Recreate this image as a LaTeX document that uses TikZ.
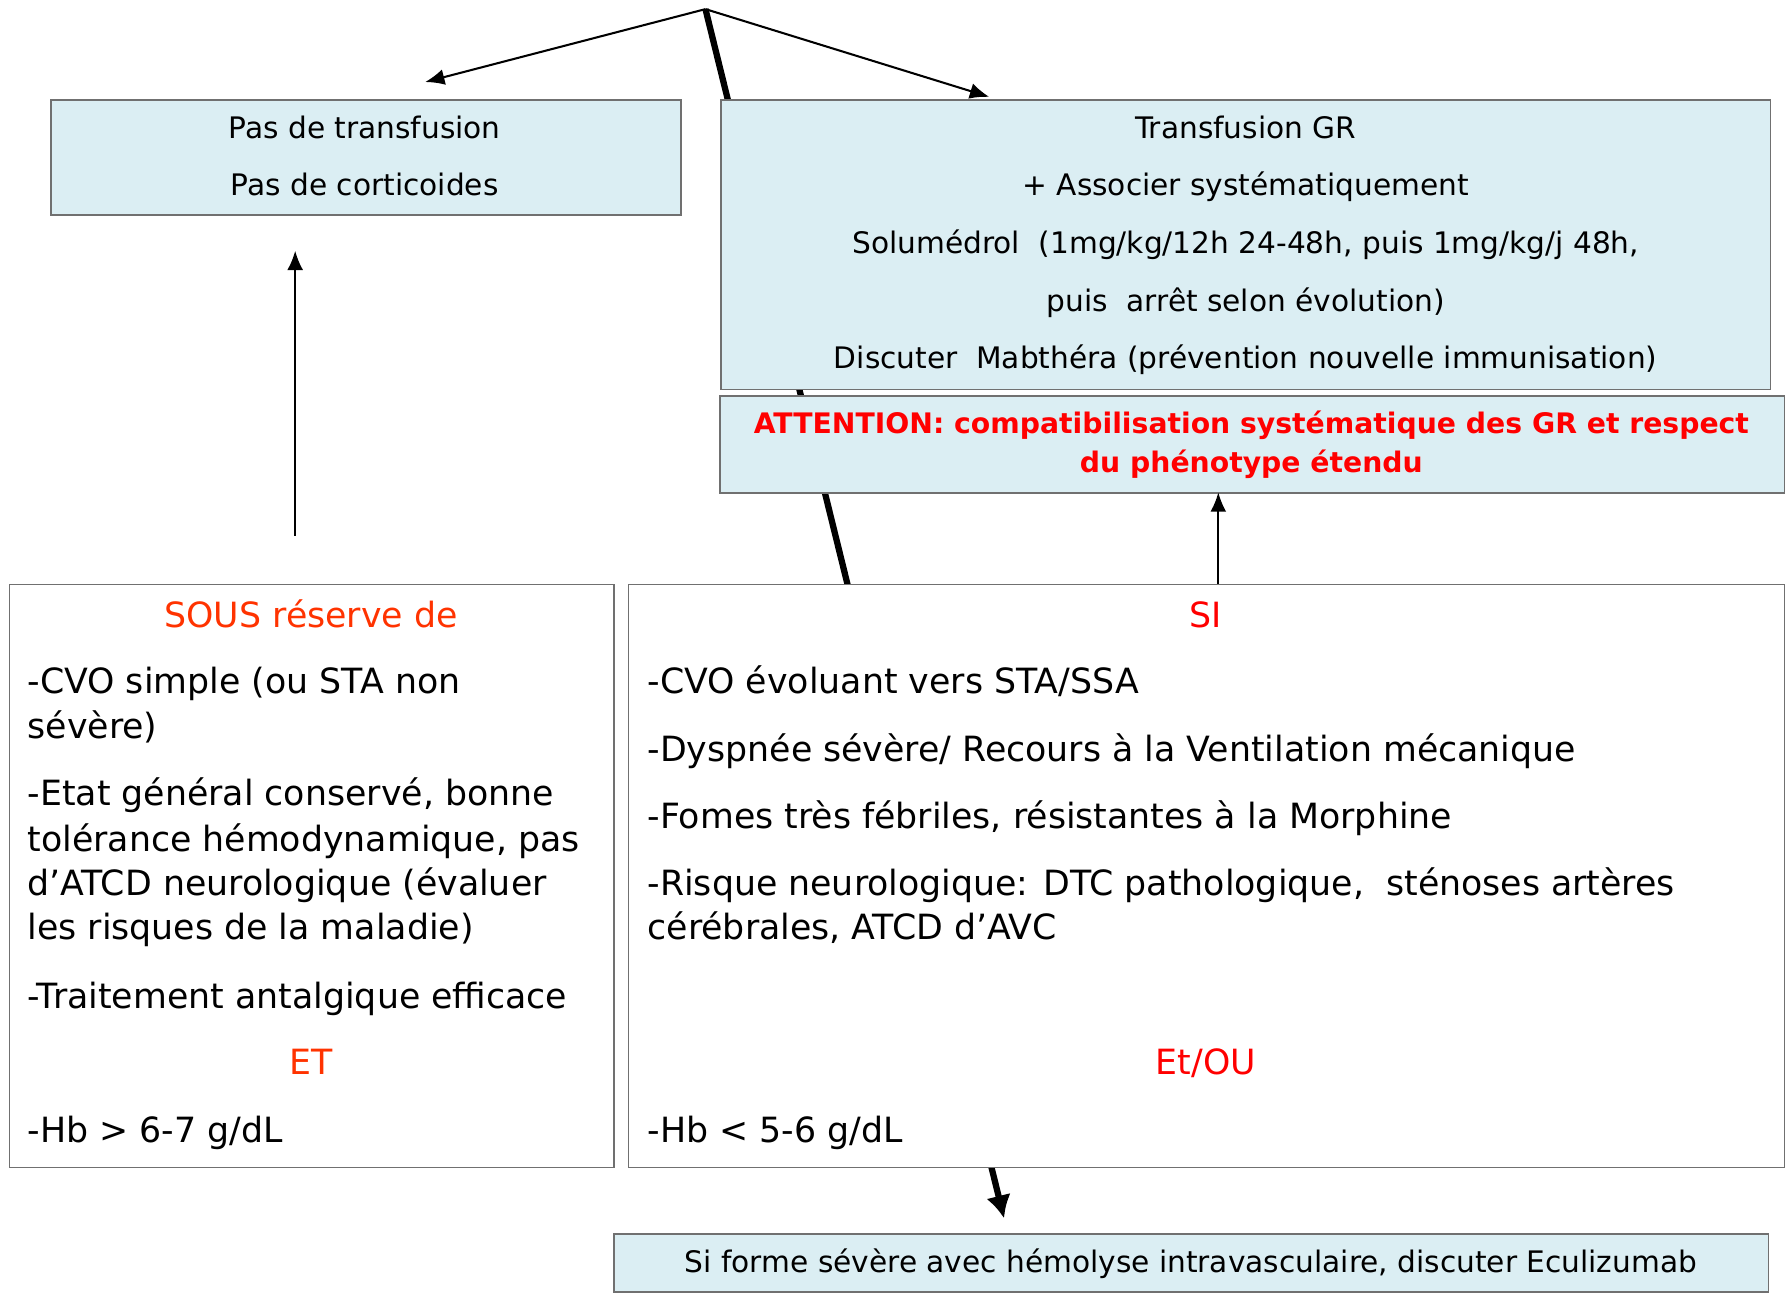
\documentclass[tikz,border=0pt]{standalone}
\usepackage{fontspec}
\setmainfont{DejaVu Sans}
\usetikzlibrary{arrows.meta}
\definecolor{boxblue}{HTML}{DBEEF3}
\definecolor{boxgray}{HTML}{707070}
\definecolor{orred}{HTML}{FF3300}
\definecolor{pured}{HTML}{FF0000}
\tikzset{
  bluebox/.style={draw=boxgray, fill=boxblue, line width=1.2pt, inner sep=0pt, anchor=north west},
  whitebox/.style={draw=boxgray, fill=white, line width=1.2pt, inner sep=0pt, anchor=north west},
  toptxt/.style={inner sep=0pt, anchor=mid, yshift=-7pt, font=\fontsize{26}{30}\selectfont},
  bigtxt/.style={inner sep=0pt, anchor=mid west, yshift=-8pt, font=\fontsize{30.5}{36}\selectfont},
  bigtitle/.style={inner sep=0pt, anchor=mid, yshift=-8pt, font=\fontsize{30.5}{36}\selectfont},
  warntxt/.style={inner sep=0pt, anchor=mid, yshift=-6pt, text=pured, font=\bfseries\fontsize{24.8}{28}\selectfont},
  thinarrow/.style={line width=1.8pt, -{Latex[length=17pt,width=14pt]}},
  thickarrow/.style={line width=5.5pt, -{Latex[length=20pt,width=22pt]}},
}
\begin{document}
\begin{tikzpicture}[x=1pt,y=-1pt]
\useasboundingbox (0,0) rectangle (1568,1138);
% apex and thick arrow (behind boxes)
\coordinate (apex) at (619,8);
\coordinate (thickend) at (881,1069);
\draw[thickarrow] (apex) -- (thickend);

% boxes
\node[bluebox, minimum width=553pt, minimum height=101pt] (notr) at (44,87) {};
\node[bluebox, minimum width=921pt, minimum height=254pt] (tr) at (632,87) {};
\node[bluebox, minimum width=934pt, minimum height=85pt] (warn) at (631,347) {};
\node[whitebox, minimum width=530pt, minimum height=512pt] (left) at (8,512) {};
\node[whitebox, minimum width=1014pt, minimum height=512pt] (right) at (551,512) {};
\node[bluebox, minimum width=1013pt, minimum height=51pt] (ecu) at (538,1082) {};

% top thin arrows
\coordinate (lt) at (373,72);
\coordinate (rt) at (868,85);
\draw[thinarrow] (apex) -- (lt);
\draw[thinarrow] (apex) -- (rt);

% vertical arrows
\coordinate (la0) at (259,470);
\coordinate (la1) at (259,220);
\draw[thinarrow] (la0) -- (la1);
\coordinate (ra0) at (1069,512);
\coordinate (ra1) at (1069,432);
\draw[thinarrow] (ra0) -- (ra1);

% texts: top left box
\node[toptxt] (t1) at (320,112) {Pas de transfusion};
\node[toptxt] (t2) at (320,162) {Pas de corticoides};
% top right box
\node[toptxt] (r1) at (1093,112) {Transfusion GR};
\node[toptxt] (r2) at (1093,162) {+ Associer systématiquement};
\node[toptxt] (r3) at (1093,213) {Solumédrol\ \ (1mg/kg/12h 24-48h, puis 1mg/kg/j 48h,};
\node[toptxt] (r4) at (1093,264) {puis\ \ arrêt selon évolution)};
\node[toptxt] (r5) at (1093,314) {Discuter\ \ Mabthéra (prévention nouvelle immunisation)};
% warning
\node[warntxt] (w1) at (1098,372) {ATTENTION: compatibilisation systématique des GR et respect};
\node[warntxt] (w2) at (1098,406) {du phénotype étendu};

% left big box
\node[bigtitle, text=orred] (l0) at (273,540) {SOUS réserve de};
\node[bigtxt] (l1) at (24,598) {-CVO simple (ou STA non};
\node[bigtxt] (l2) at (24,637) {sévère)};
\node[bigtxt] (l3) at (24,696) {-Etat général conservé, bonne};
\node[bigtxt] (l4) at (24,736) {tolérance hémodynamique, pas};
\node[bigtxt] (l5) at (24,775) {d’ATCD neurologique (évaluer};
\node[bigtxt] (l6) at (24,814) {les risques de la maladie)};
\node[bigtxt] (l7) at (24,874) {-Traitement antalgique efficace};
\node[bigtitle, text=orred] (l8) at (273,932) {ET};
\node[bigtxt] (l9) at (24,992) {-Hb > 6-7 g/dL};

% right big box
\node[bigtitle, text=pured] (s0) at (1058,540) {SI};
\node[bigtxt] (s1) at (568,598) {-CVO évoluant vers STA/SSA};
\node[bigtxt] (s2) at (568,657) {-Dyspnée sévère/ Recours à la Ventilation mécanique};
\node[bigtxt] (s3) at (568,716) {-Fomes très fébriles, résistantes à la Morphine};
\node[bigtxt] (s4) at (568,775) {-Risque neurologique: DTC pathologique,\ \ sténoses artères};
\node[bigtxt] (s5) at (568,814) {cérébrales, ATCD d’AVC};
\node[bigtitle, text=pured] (s6) at (1058,932) {Et/OU};
\node[bigtxt] (s7) at (568,992) {-Hb < 5-6 g/dL};

% bottom box
\node[toptxt] (e1) at (1045,1107) {Si forme sévère avec hémolyse intravasculaire, discuter Eculizumab};
\end{tikzpicture}
\end{document}
